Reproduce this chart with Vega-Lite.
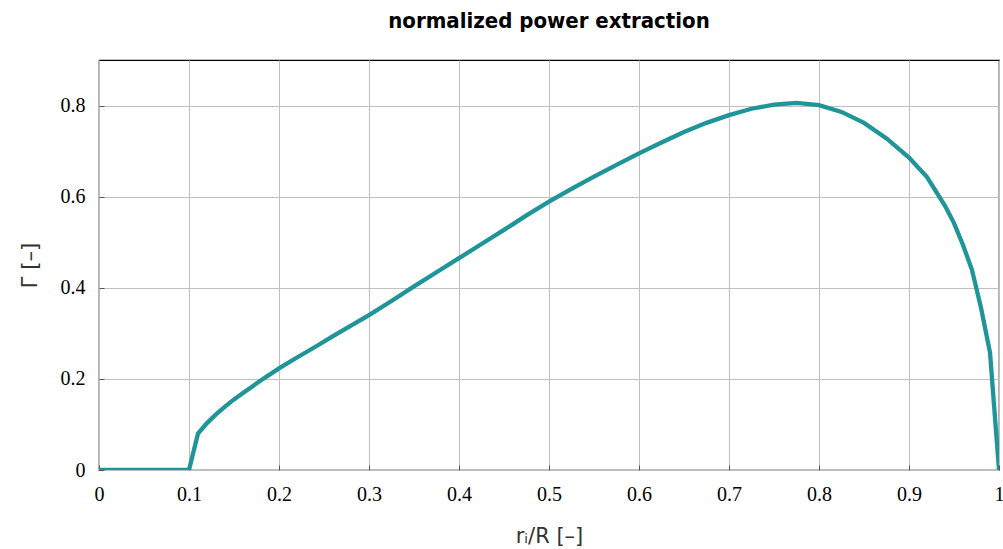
{
  "$schema": "https://vega.github.io/schema/vega-lite/v6.json",
  "autosize": "none",
  "padding": {"left": 99, "top": 60, "right": 4, "bottom": 79},
  "width": 900,
  "height": 410,
  "background": "white",
  "title": {
    "text": "normalized power extraction",
    "font": "DejaVu Sans Condensed",
    "fontWeight": "bold",
    "fontSize": 22,
    "color": "#000000",
    "anchor": "middle",
    "offset": 27
  },
  "config": {
    "view": {"stroke": "#000000", "strokeWidth": 1.2},
    "axis": {
      "domain": false,
      "gridColor": "#bfbfbf",
      "gridWidth": 1,
      "tickColor": "#555555",
      "tickSize": -5,
      "labelFlush": false,
      "labelFont": "Liberation Serif",
      "labelFontSize": 20,
      "labelColor": "#000000",
      "titleFont": "DejaVu Sans",
      "titleFontWeight": "normal",
      "titleFontSize": 21,
      "titleColor": "#333333"
    }
  },
  "data": {
    "values": [
      {"x": 0, "y": 0},
      {"x": 0.1, "y": 0},
      {"x": 0.11, "y": 0.08},
      {"x": 0.12, "y": 0.103},
      {"x": 0.13, "y": 0.122},
      {"x": 0.14, "y": 0.139},
      {"x": 0.15, "y": 0.155},
      {"x": 0.16, "y": 0.169},
      {"x": 0.17, "y": 0.183},
      {"x": 0.18, "y": 0.197},
      {"x": 0.19, "y": 0.21},
      {"x": 0.2, "y": 0.223},
      {"x": 0.22, "y": 0.247},
      {"x": 0.24, "y": 0.27},
      {"x": 0.26, "y": 0.294},
      {"x": 0.28, "y": 0.317},
      {"x": 0.3, "y": 0.34},
      {"x": 0.325, "y": 0.371},
      {"x": 0.35, "y": 0.403},
      {"x": 0.375, "y": 0.434},
      {"x": 0.4, "y": 0.465},
      {"x": 0.425, "y": 0.496},
      {"x": 0.45, "y": 0.527},
      {"x": 0.475, "y": 0.559},
      {"x": 0.5, "y": 0.589},
      {"x": 0.525, "y": 0.617},
      {"x": 0.55, "y": 0.644},
      {"x": 0.575, "y": 0.67},
      {"x": 0.6, "y": 0.695},
      {"x": 0.625, "y": 0.719},
      {"x": 0.65, "y": 0.742},
      {"x": 0.675, "y": 0.762},
      {"x": 0.7, "y": 0.779},
      {"x": 0.725, "y": 0.793},
      {"x": 0.75, "y": 0.802},
      {"x": 0.775, "y": 0.806},
      {"x": 0.8, "y": 0.801},
      {"x": 0.825, "y": 0.786},
      {"x": 0.85, "y": 0.762},
      {"x": 0.875, "y": 0.728},
      {"x": 0.9, "y": 0.686},
      {"x": 0.92, "y": 0.643},
      {"x": 0.94, "y": 0.58},
      {"x": 0.95, "y": 0.542},
      {"x": 0.96, "y": 0.494},
      {"x": 0.97, "y": 0.439},
      {"x": 0.98, "y": 0.356},
      {"x": 0.99, "y": 0.258},
      {"x": 1.0, "y": 0}
    ]
  },
  "mark": {"type": "line", "color": "#1f9599", "strokeWidth": 4.3, "clip": true},
  "encoding": {
    "x": {
      "field": "x",
      "type": "quantitative",
      "scale": {"domain": [0, 1], "nice": false},
      "axis": {
        "title": "rᵢ/R [–]",
        "values": [0, 0.1, 0.2, 0.3, 0.4, 0.5, 0.6, 0.7, 0.8, 0.9, 1],
        "labelExpr": "datum.value == 0 ? '0' : datum.value == 1 ? '1' : format(datum.value, '.1f')",
        "labelPadding": 19,
        "titlePadding": 21
      }
    },
    "y": {
      "field": "y",
      "type": "quantitative",
      "scale": {"domain": [0, 0.9], "nice": false},
      "axis": {
        "title": "Γ [–]",
        "values": [0, 0.2, 0.4, 0.6, 0.8],
        "labelExpr": "datum.value == 0 ? '0' : format(datum.value, '.1f')",
        "labelPadding": 19,
        "titlePadding": 20
      }
    }
  }
}
